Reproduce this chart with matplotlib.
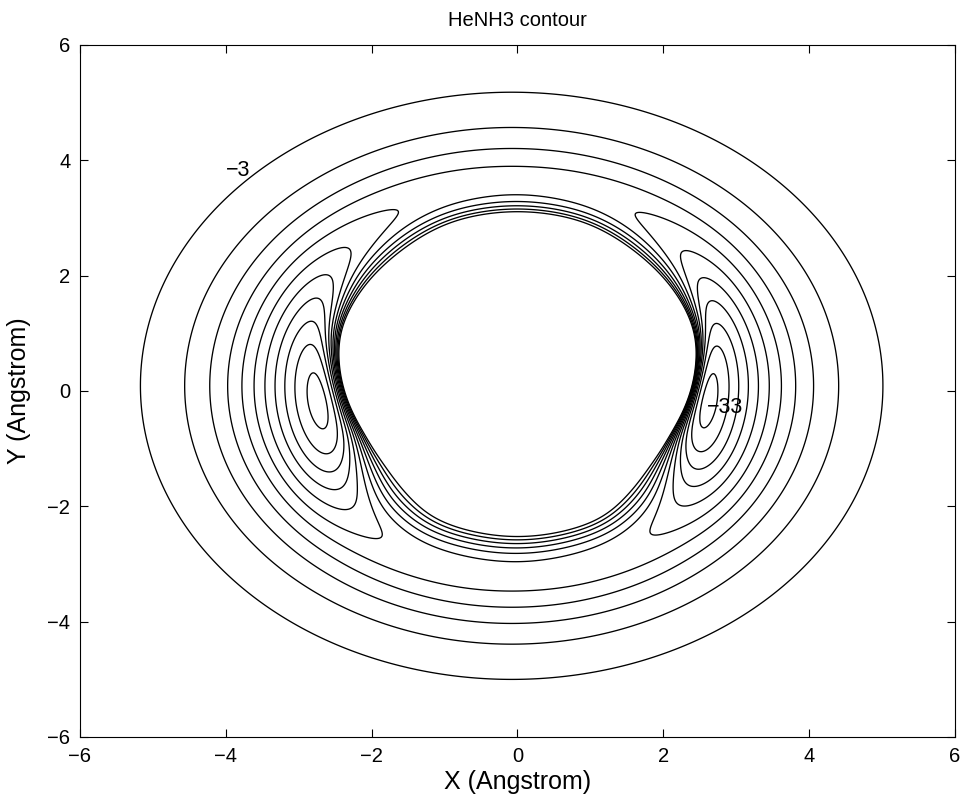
import numpy as np
import matplotlib
matplotlib.use("Agg")
import matplotlib.pyplot as plt

plt.rcParams["font.family"] = ["Liberation Sans", "DejaVu Sans"]

# Contour levels (energy units of the surface)
levels = np.arange(-33, 1, 3)

# Angular tables, psi = angle from the +y axis in degrees (mirror symmetric in x)
# well depth along each direction
depth_psi = [0, 15, 30.4, 44.2, 53.2, 59.3, 67, 73.8, 81.6, 93, 105.4, 112.9, 118.5, 123.8, 130.5, 139.9, 160, 180]
depth_val = [13.5, 14.0, 15.0, 18.0, 21.0, 24.0, 27.0, 30.0, 33.0, 34.8, 33.0, 30.0, 27.0, 24.0, 21.0, 18.0, 16.8, 16.5]

# radius of the repulsive wall (zero contour)
wall_psi = [0, 17.5, 33.6, 54.7, 67.6, 80.2, 93.9, 109.3, 126.4, 142.9, 151.2, 180]
wall_val = [3.12, 3.08, 2.90, 2.73, 2.63, 2.47, 2.33, 2.21, 2.22, 2.37, 2.49, 2.53]

# isotropic long-range attraction  -C / (rho^6 + s)
lr_center = (-0.08, 0.09)
lr_c6 = 55700.0
lr_soft = 1150.0
# curvature of the repulsive wall in log space
wall_gamma = 1.0


def angular_profile(tab_psi, tab_val, psi, width=4.0):
    # piecewise-linear table, smoothed with a gaussian in angle (reflected ends)
    fine = np.arange(-90.0, 270.0001, 0.25)
    folded = np.where(fine < 0, -fine, np.where(fine > 180, 360 - fine, fine))
    base = np.interp(folded, tab_psi, tab_val)
    k = np.arange(-4 * width, 4 * width + 0.001, 0.25)
    kern = np.exp(-0.5 * (k / width) ** 2)
    kern /= kern.sum()
    smooth = np.convolve(base, kern, mode="same")
    keep = (fine >= 0) & (fine <= 180)
    return np.interp(psi, fine[keep], smooth[keep])


def ring_smooth(vals, width_deg, step_deg):
    # gaussian smoothing of a periodic profile
    n = int(4 * width_deg / step_deg)
    k = np.arange(-n, n + 1) * step_deg
    kern = np.exp(-0.5 * (k / width_deg) ** 2)
    kern /= kern.sum()
    padded = np.concatenate([vals[-n - 1:-1], vals, vals[1:n + 1]])
    return np.convolve(padded, kern, mode="valid")


def long_range(xx, yy):
    rho2 = (xx - lr_center[0]) ** 2 + (yy - lr_center[1]) ** 2
    return -lr_c6 / (rho2 ** 3 + lr_soft)


def wall(amp, beta, d):
    d = np.asarray(d)
    dp = np.clip(d, 0, None)
    return amp * np.exp(np.clip(-beta * d - wall_gamma * dp ** 2, None, 40))


# wall parameters on a fine ring of directions
th = np.linspace(-np.pi, np.pi, 721)
psi_t = np.degrees(np.arccos(np.sin(th)))
eps_t = angular_profile(depth_psi, depth_val, psi_t)
r0_t = angular_profile(wall_psi, wall_val, psi_t, width=6.0)
amp_t = -long_range(r0_t * np.cos(th), r0_t * np.sin(th))

rr = np.linspace(1.5, 7.0, 1101)
ray_x = rr[None, :] * np.cos(th)[:, None]
ray_y = rr[None, :] * np.sin(th)[:, None]
ray_lr = long_range(ray_x, ray_y)
outside = rr[None, :] >= r0_t[:, None]

# steepness of the wall so that the well along each ray has the tabulated depth
lo = np.full(th.size, 0.0)
hi = np.full(th.size, 40.0)
for _ in range(50):
    beta = 0.5 * (lo + hi)
    rep = wall(amp_t[:, None], beta[:, None], rr[None, :] - r0_t[:, None])
    vmin = np.where(outside, ray_lr + rep, np.inf).min(axis=1)
    too_deep = vmin < -eps_t
    hi = np.where(too_deep, beta, hi)
    lo = np.where(too_deep, lo, beta)
beta_t = ring_smooth(0.5 * (lo + hi), 4.0, 0.5)

x = np.linspace(-6, 6, 801)
y = np.linspace(-6, 6, 801)
X, Y = np.meshgrid(x, y)
R = np.hypot(X, Y)
TH = np.arctan2(Y, X)

amp = np.interp(TH, th, amp_t)
beta = np.interp(TH, th, beta_t)
r0 = np.interp(TH, th, r0_t)
V = long_range(X, Y) + wall(amp, beta, R - r0)
V = np.clip(V, None, 60)

fig = plt.figure(figsize=(9.7, 8.09), dpi=100)
ax = fig.add_axes([80 / 970, 72 / 809, 875 / 970, 692 / 809])

ax.contour(X, Y, V, levels=levels, colors="black", linewidths=0.95, linestyles="solid")

lab_fmt = lambda v: f"\u2212{abs(v):.0f}"
ax.text(-3.83, 3.83, lab_fmt(levels[-2]), fontsize=15.5, ha="center", va="center")
ax.text(2.85, -0.28, lab_fmt(levels[0]), fontsize=15.5, ha="center", va="center")

ax.set_xlim(-6, 6)
ax.set_ylim(-6, 6)
ticks = np.arange(-6, 7, 2)
ax.set_xticks(ticks)
ax.set_yticks(ticks)
ax.tick_params(direction="in", top=True, right=True, length=6, width=0.8, labelsize=14.5, pad=7)
for s in ax.spines.values():
    s.set_linewidth(0.8)

ax.set_title("HeNH3 contour", fontsize=14.5, pad=14)
ax.set_xlabel("X (Angstrom)", fontsize=18, labelpad=3)
ax.set_ylabel("Y (Angstrom)", fontsize=18, labelpad=12)

fig.savefig("out.png", dpi=100, facecolor="white")
